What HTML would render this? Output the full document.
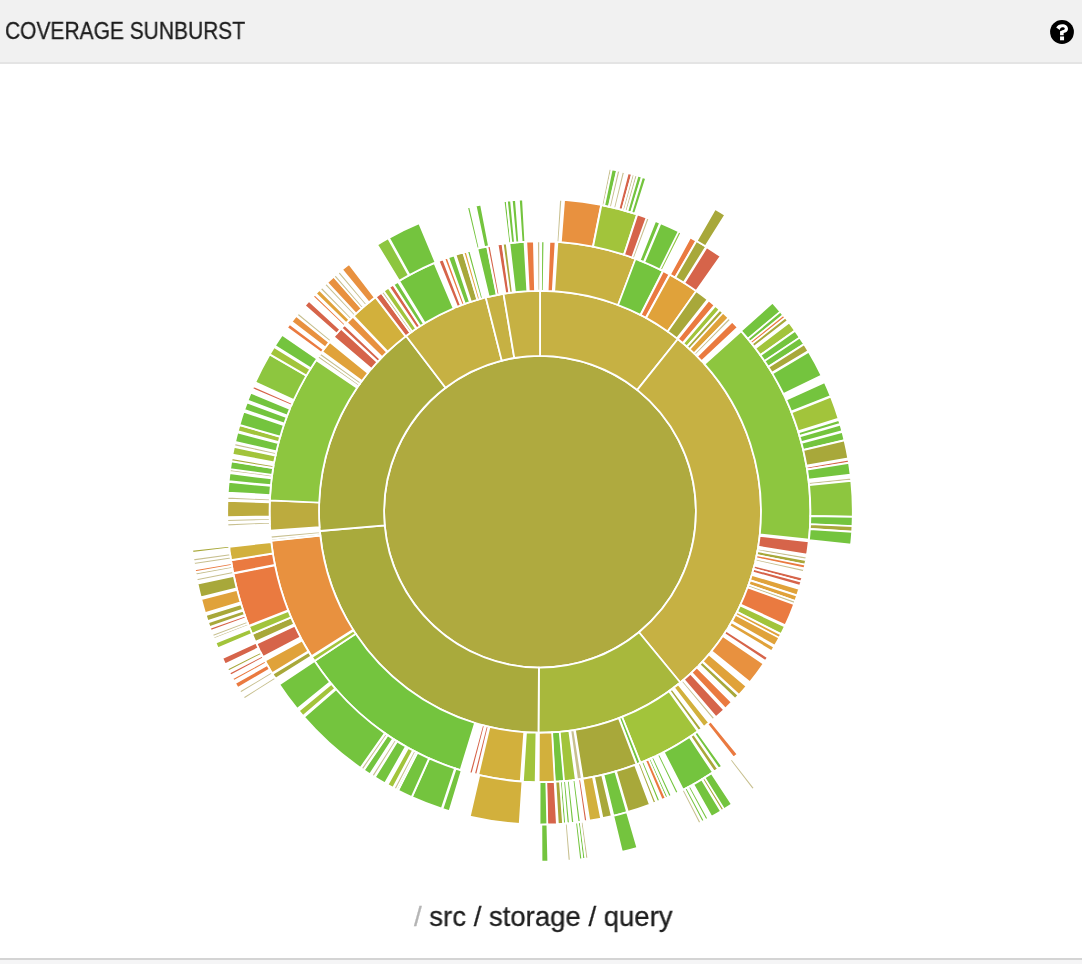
<!DOCTYPE html>
<html><head><meta charset="utf-8"><style>
html,body{margin:0;padding:0;background:#fff;width:1082px;height:964px;overflow:hidden;}
body{position:relative;font-family:"Liberation Sans",sans-serif;}
.hdr{position:absolute;left:0;top:0;width:1082px;height:62px;background:#f1f1f1;border-bottom:2px solid #e4e4e4;}
.ttl{position:absolute;left:5px;top:15.5px;will-change:transform;font-size:23px;line-height:30px;color:#1c1c1c;-webkit-text-stroke:0.3px #1c1c1c;white-space:nowrap;transform:scaleX(0.912);transform-origin:0 0;}
.help{position:absolute;left:1050px;top:19.75px;}
.crumb{position:absolute;left:414px;top:897px;will-change:transform;font-size:28px;line-height:40px;color:#1e1e1e;-webkit-text-stroke:0.3px #1e1e1e;white-space:nowrap;transform:scaleX(0.983);transform-origin:0 0;}
.crumb .g{color:#b4b4b4;-webkit-text-stroke:0.3px #b4b4b4;}
.bot{position:absolute;left:0;top:958px;width:1082px;height:2px;background:#d4d4d4;}
.bot2{position:absolute;left:0;top:960px;width:1082px;height:4px;background:#f5f5f6;}
svg.sb{position:absolute;left:0;top:0;}
</style></head><body>
<div class="hdr"><div class="ttl">COVERAGE SUNBURST</div>
<svg class="help" width="24" height="24" viewBox="0 0 24 24"><circle cx="12" cy="12" r="11.9" fill="#000"/><path d="M6.2,7.6 C7.2,5.3 9.6,4.15 12.2,4.15 C15.6,4.15 18,6.2 18,8.9 C18,11.3 16,12.2 13.65,12.9 L13.65,15.25 L10.05,15.25 L10.05,11.6 C10.05,10.5 14.8,10.2 14.8,8.7 C14.8,7.8 13.6,7.3 12.3,7.3 C11,7.3 10.2,8.1 9.8,9.9 Z" fill="#fff"/><rect x="10.05" y="16.45" width="4" height="3.85" fill="#fff"/></svg>
</div>
<svg class="sb" width="1082" height="964" viewBox="0 0 1082 964"><g stroke="#fff" stroke-width="1.8">
<circle cx="540.0" cy="511.75" r="155.9" fill="#afaa3f"/>
<path d="M540.00,290.75A221.0,221.0 0 0 1 677.88,339.03L637.26,389.91A155.9,155.9 0 0 0 540.00,355.85Z" fill="#c6b143"/>
<path d="M677.88,339.03A221.0,221.0 0 0 1 680.28,682.52L638.95,632.22A155.9,155.9 0 0 0 637.26,389.91Z" fill="#c6b143"/>
<path d="M680.28,682.52A221.0,221.0 0 0 1 538.46,732.74L538.91,667.65A155.9,155.9 0 0 0 638.95,632.22Z" fill="#a8b83c"/>
<path d="M538.46,732.74A221.0,221.0 0 0 1 319.84,531.01L384.69,525.34A155.9,155.9 0 0 0 538.91,667.65Z" fill="#a9aa3c"/>
<path d="M319.84,531.01A221.0,221.0 0 0 1 406.08,335.95L445.53,387.74A155.9,155.9 0 0 0 384.69,525.34Z" fill="#a9aa3c"/>
<path d="M406.08,335.95A221.0,221.0 0 0 1 485.79,297.50L501.76,360.61A155.9,155.9 0 0 0 445.53,387.74Z" fill="#c6b143"/>
<path d="M485.79,297.50A221.0,221.0 0 0 1 503.52,293.78L514.27,357.99A155.9,155.9 0 0 0 501.76,360.61Z" fill="#c6b143"/>
<path d="M503.52,293.78A221.0,221.0 0 0 1 540.00,290.75L540.00,355.85A155.9,155.9 0 0 0 514.27,357.99Z" fill="#c6b143"/>
<path d="M541.29,241.35A270.4,270.4 0 0 1 544.37,241.39L543.57,290.78A221.0,221.0 0 0 0 541.06,290.75Z" fill="#74c43e"/>
<path d="M549.39,241.51A270.4,270.4 0 0 1 555.61,241.80L552.76,291.12A221.0,221.0 0 0 0 547.67,290.88Z" fill="#ea7a40"/>
<path d="M557.40,241.91A270.4,270.4 0 0 1 635.62,258.82L618.15,305.03A221.0,221.0 0 0 0 554.22,291.21Z" fill="#c8b141"/>
<path d="M635.54,258.79A270.4,270.4 0 0 1 662.80,270.84L640.37,314.85A221.0,221.0 0 0 0 618.08,305.00Z" fill="#74c43e"/>
<path d="M663.14,271.02A270.4,270.4 0 0 1 669.48,274.37L645.82,317.73A221.0,221.0 0 0 0 640.64,315.00Z" fill="#ea7a40"/>
<path d="M669.81,274.55A270.4,270.4 0 0 1 696.29,291.09L667.74,331.41A221.0,221.0 0 0 0 646.10,317.88Z" fill="#e0a23a"/>
<path d="M696.21,291.04A270.4,270.4 0 0 1 707.62,299.58L677.00,338.34A221.0,221.0 0 0 0 667.68,331.36Z" fill="#a8a83a"/>
<path d="M708.66,300.40A270.4,270.4 0 0 1 714.57,305.25L682.68,342.98A221.0,221.0 0 0 0 677.85,339.01Z" fill="#ea7a40"/>
<path d="M715.22,305.80A270.4,270.4 0 0 1 719.56,309.58L686.76,346.51A221.0,221.0 0 0 0 683.21,343.43Z" fill="#a2c43b"/>
<path d="M719.84,309.83A270.4,270.4 0 0 1 723.76,313.38L690.18,349.62A221.0,221.0 0 0 0 686.99,346.72Z" fill="#a8a83a"/>
<path d="M722.99,312.68A270.4,270.4 0 0 1 728.55,317.93L694.10,353.34A221.0,221.0 0 0 0 689.56,349.05Z" fill="#e0a23a"/>
<path d="M728.59,317.97A270.4,270.4 0 0 1 730.79,320.14L695.93,355.14A221.0,221.0 0 0 0 694.14,353.38Z" fill="#c8c090"/>
<path d="M732.17,321.52A270.4,270.4 0 0 1 737.79,327.37L701.66,361.06A221.0,221.0 0 0 0 697.06,356.27Z" fill="#ea7a40"/>
<path d="M741.23,331.13A270.4,270.4 0 0 1 808.96,539.59L759.83,534.51A221.0,221.0 0 0 0 704.47,364.13Z" fill="#8dc63f"/>
<path d="M808.77,541.38A270.4,270.4 0 0 1 806.99,554.56L758.21,546.74A221.0,221.0 0 0 0 759.67,535.96Z" fill="#d6644a"/>
<path d="M806.63,556.72A270.4,270.4 0 0 1 806.10,559.76L757.49,550.99A221.0,221.0 0 0 0 757.92,548.51Z" fill="#c8c090"/>
<path d="M806.05,560.05A270.4,270.4 0 0 1 805.15,564.78L756.71,555.09A221.0,221.0 0 0 0 757.45,551.23Z" fill="#a8a83a"/>
<path d="M805.17,564.69A270.4,270.4 0 0 1 804.38,568.48L756.08,558.11A221.0,221.0 0 0 0 756.72,555.02Z" fill="#ea7a40"/>
<path d="M804.22,569.23A270.4,270.4 0 0 1 803.55,572.24L755.40,561.19A221.0,221.0 0 0 0 755.95,558.73Z" fill="#c8c090"/>
<path d="M802.26,577.58A270.4,270.4 0 0 1 801.17,581.78L753.46,568.99A221.0,221.0 0 0 0 754.35,565.55Z" fill="#d6644a"/>
<path d="M801.20,581.69A270.4,270.4 0 0 1 800.04,585.87L752.53,572.33A221.0,221.0 0 0 0 753.48,568.91Z" fill="#d6644a"/>
<path d="M799.14,588.96A270.4,270.4 0 0 1 797.15,595.35L750.17,580.08A221.0,221.0 0 0 0 751.80,574.85Z" fill="#e0a23a"/>
<path d="M797.03,595.71A270.4,270.4 0 0 1 795.19,601.17L748.57,584.83A221.0,221.0 0 0 0 750.08,580.37Z" fill="#e0a23a"/>
<path d="M795.25,601.00A270.4,270.4 0 0 1 794.21,603.91L747.77,587.07A221.0,221.0 0 0 0 748.61,584.70Z" fill="#c8c090"/>
<path d="M794.11,604.19A270.4,270.4 0 0 1 785.44,625.21L740.60,604.48A221.0,221.0 0 0 0 747.69,587.30Z" fill="#ea7a40"/>
<path d="M784.89,626.41A270.4,270.4 0 0 1 781.12,634.13L737.07,611.77A221.0,221.0 0 0 0 740.15,605.46Z" fill="#a2c43b"/>
<path d="M780.95,634.47A270.4,270.4 0 0 1 778.95,638.32L735.29,615.20A221.0,221.0 0 0 0 736.93,612.05Z" fill="#e0a23a"/>
<path d="M779.21,637.82A270.4,270.4 0 0 1 774.85,645.76L731.95,621.28A221.0,221.0 0 0 0 735.51,614.79Z" fill="#e0a23a"/>
<path d="M774.20,646.91A270.4,270.4 0 0 1 771.63,651.26L729.31,625.77A221.0,221.0 0 0 0 731.41,622.22Z" fill="#e0a23a"/>
<path d="M767.82,657.39A270.4,270.4 0 0 1 765.46,661.03L724.27,633.76A221.0,221.0 0 0 0 726.20,630.79Z" fill="#d6644a"/>
<path d="M763.67,663.70A270.4,270.4 0 0 1 749.81,682.32L711.48,651.16A221.0,221.0 0 0 0 722.81,635.94Z" fill="#e8913f"/>
<path d="M746.56,686.25A270.4,270.4 0 0 1 739.01,694.81L702.65,661.37A221.0,221.0 0 0 0 708.82,654.37Z" fill="#e0a23a"/>
<path d="M738.43,695.44A270.4,270.4 0 0 1 735.13,698.94L699.48,664.74A221.0,221.0 0 0 0 702.18,661.88Z" fill="#a8a83a"/>
<path d="M731.90,702.25A270.4,270.4 0 0 1 725.41,708.57L691.54,672.61A221.0,221.0 0 0 0 696.84,667.45Z" fill="#ea7a40"/>
<path d="M724.10,709.80A270.4,270.4 0 0 1 715.93,717.09L683.79,679.57A221.0,221.0 0 0 0 690.47,673.62Z" fill="#d6644a"/>
<path d="M714.99,717.89A270.4,270.4 0 0 1 712.63,719.88L681.09,681.85A221.0,221.0 0 0 0 683.02,680.23Z" fill="#c8c090"/>
<path d="M709.10,722.75A270.4,270.4 0 0 1 703.82,726.87L673.89,687.57A221.0,221.0 0 0 0 678.21,684.20Z" fill="#d2b03c"/>
<path d="M701.64,728.52A270.4,270.4 0 0 1 698.52,730.81L669.56,690.79A221.0,221.0 0 0 0 672.11,688.92Z" fill="#a8a83a"/>
<path d="M697.83,731.31A270.4,270.4 0 0 1 640.37,762.83L622.04,716.96A221.0,221.0 0 0 0 668.99,691.20Z" fill="#a2c43b"/>
<path d="M640.46,762.80A270.4,270.4 0 0 1 636.86,764.21L619.16,718.08A221.0,221.0 0 0 0 622.11,716.93Z" fill="#74c43e"/>
<path d="M636.51,764.34A270.4,270.4 0 0 1 582.72,778.75L574.92,729.97A221.0,221.0 0 0 0 618.87,718.20Z" fill="#a8a83a"/>
<path d="M581.88,778.89A270.4,270.4 0 0 1 577.12,779.59L570.34,730.66A221.0,221.0 0 0 0 574.23,730.08Z" fill="#c8c090"/>
<path d="M575.81,779.77A270.4,270.4 0 0 1 563.52,781.13L559.22,731.91A221.0,221.0 0 0 0 569.27,730.80Z" fill="#a2c43b"/>
<path d="M564.08,781.08A270.4,270.4 0 0 1 554.58,781.76L551.91,732.43A221.0,221.0 0 0 0 559.68,731.87Z" fill="#74c43e"/>
<path d="M554.81,781.74A270.4,270.4 0 0 1 538.68,782.15L538.92,732.75A221.0,221.0 0 0 0 552.10,732.42Z" fill="#d2b03c"/>
<path d="M535.66,782.12A270.4,270.4 0 0 1 522.88,781.61L526.01,732.31A221.0,221.0 0 0 0 536.45,732.72Z" fill="#a2c43b"/>
<path d="M520.71,781.46A270.4,270.4 0 0 1 478.21,775.00L489.50,726.90A221.0,221.0 0 0 0 524.24,732.19Z" fill="#d2b03c"/>
<path d="M477.00,774.71A270.4,270.4 0 0 1 474.01,773.97L486.06,726.07A221.0,221.0 0 0 0 488.51,726.67Z" fill="#d6644a"/>
<path d="M472.42,773.57A270.4,270.4 0 0 1 469.44,772.78L482.33,725.09A221.0,221.0 0 0 0 484.76,725.74Z" fill="#d6644a"/>
<path d="M460.54,770.21A270.4,270.4 0 0 1 314.49,660.95L355.69,633.70A221.0,221.0 0 0 0 475.05,722.99Z" fill="#74c43e"/>
<path d="M314.54,661.03A270.4,270.4 0 0 1 311.92,657.00L353.59,630.46A221.0,221.0 0 0 0 355.73,633.76Z" fill="#a2c43b"/>
<path d="M311.47,656.28A270.4,270.4 0 0 1 271.18,540.91L320.29,535.58A221.0,221.0 0 0 0 353.22,629.87Z" fill="#e8913f"/>
<path d="M271.14,540.61A270.4,270.4 0 0 1 270.83,537.54L320.01,532.83A221.0,221.0 0 0 0 320.26,535.34Z" fill="#c8c090"/>
<path d="M270.95,538.73A270.4,270.4 0 0 1 270.66,535.66L319.87,531.29A221.0,221.0 0 0 0 320.10,533.80Z" fill="#c8c090"/>
<path d="M270.26,530.66A270.4,270.4 0 0 1 269.84,500.38L319.20,502.46A221.0,221.0 0 0 0 319.54,527.20Z" fill="#bcab3e"/>
<path d="M269.84,500.47A270.4,270.4 0 0 1 316.12,360.11L357.02,387.82A221.0,221.0 0 0 0 319.19,502.53Z" fill="#8dc63f"/>
<path d="M317.49,358.11A270.4,270.4 0 0 1 319.25,355.59L359.58,384.12A221.0,221.0 0 0 0 358.14,386.18Z" fill="#c8c090"/>
<path d="M319.24,355.60A270.4,270.4 0 0 1 321.04,353.09L361.04,382.08A221.0,221.0 0 0 0 359.57,384.13Z" fill="#c8c090"/>
<path d="M322.05,351.71A270.4,270.4 0 0 1 329.59,341.91L368.03,372.94A221.0,221.0 0 0 0 361.87,380.95Z" fill="#e0a23a"/>
<path d="M333.74,336.89A270.4,270.4 0 0 1 340.99,328.69L377.35,362.13A221.0,221.0 0 0 0 371.43,368.84Z" fill="#d6644a"/>
<path d="M341.57,328.06A270.4,270.4 0 0 1 344.54,324.90L380.25,359.04A221.0,221.0 0 0 0 377.82,361.62Z" fill="#d6644a"/>
<path d="M346.77,322.59A270.4,270.4 0 0 1 352.88,316.55L387.06,352.21A221.0,221.0 0 0 0 382.07,357.15Z" fill="#e8913f"/>
<path d="M353.49,315.97A270.4,270.4 0 0 1 375.43,297.20L405.49,336.40A221.0,221.0 0 0 0 387.57,351.73Z" fill="#d2b03c"/>
<path d="M375.73,296.97A270.4,270.4 0 0 1 381.48,292.69L410.44,332.71A221.0,221.0 0 0 0 405.74,336.21Z" fill="#d6644a"/>
<path d="M381.34,292.79A270.4,270.4 0 0 1 383.85,290.99L412.38,331.32A221.0,221.0 0 0 0 410.33,332.79Z" fill="#c8c090"/>
<path d="M383.71,291.09A270.4,270.4 0 0 1 388.44,287.82L416.13,328.73A221.0,221.0 0 0 0 412.26,331.41Z" fill="#a2c43b"/>
<path d="M389.15,287.34A270.4,270.4 0 0 1 393.16,284.69L419.99,326.17A221.0,221.0 0 0 0 416.71,328.34Z" fill="#d6644a"/>
<path d="M393.48,284.49A270.4,270.4 0 0 1 397.95,281.67L423.90,323.70A221.0,221.0 0 0 0 420.25,326.01Z" fill="#74c43e"/>
<path d="M399.08,280.97A270.4,270.4 0 0 1 434.39,262.83L453.68,308.30A221.0,221.0 0 0 0 424.82,323.14Z" fill="#74c43e"/>
<path d="M438.66,261.06A270.4,270.4 0 0 1 443.14,259.29L460.84,305.42A221.0,221.0 0 0 0 457.18,306.86Z" fill="#d6644a"/>
<path d="M444.38,258.82A270.4,270.4 0 0 1 447.56,257.64L464.45,304.06A221.0,221.0 0 0 0 461.85,305.03Z" fill="#ea7a40"/>
<path d="M448.14,257.43A270.4,270.4 0 0 1 454.25,255.31L469.91,302.16A221.0,221.0 0 0 0 464.92,303.89Z" fill="#74c43e"/>
<path d="M455.50,254.89A270.4,270.4 0 0 1 463.25,252.47L477.27,299.84A221.0,221.0 0 0 0 470.94,301.82Z" fill="#a8a83a"/>
<path d="M463.54,252.39A270.4,270.4 0 0 1 466.50,251.53L479.92,299.07A221.0,221.0 0 0 0 477.50,299.77Z" fill="#e0a23a"/>
<path d="M467.16,251.34A270.4,270.4 0 0 1 470.14,250.53L482.90,298.25A221.0,221.0 0 0 0 480.47,298.92Z" fill="#74c43e"/>
<path d="M477.29,248.72A270.4,270.4 0 0 1 487.06,246.58L496.73,295.03A221.0,221.0 0 0 0 488.75,296.78Z" fill="#74c43e"/>
<path d="M487.36,246.52A270.4,270.4 0 0 1 490.38,245.94L499.45,294.50A221.0,221.0 0 0 0 496.97,294.98Z" fill="#d6644a"/>
<path d="M497.65,244.69A270.4,270.4 0 0 1 502.41,243.98L509.28,292.90A221.0,221.0 0 0 0 505.39,293.48Z" fill="#d6644a"/>
<path d="M502.79,243.92A270.4,270.4 0 0 1 506.62,243.42L512.72,292.44A221.0,221.0 0 0 0 509.59,292.85Z" fill="#a8a83a"/>
<path d="M509.34,243.09A270.4,270.4 0 0 1 524.48,241.80L527.32,291.11A221.0,221.0 0 0 0 514.94,292.17Z" fill="#74c43e"/>
<path d="M526.27,241.70A270.4,270.4 0 0 1 533.91,241.42L535.02,290.81A221.0,221.0 0 0 0 528.78,291.03Z" fill="#ea7a40"/>
<path d="M537.04,241.37A270.4,270.4 0 0 1 540.12,241.35L540.10,290.75A221.0,221.0 0 0 0 537.58,290.76Z" fill="#c8c090"/>
<path d="M559.23,199.54A312.8,312.8 0 0 1 562.23,199.74L559.22,242.03A270.4,270.4 0 0 0 556.62,241.86Z" fill="#c8c090"/>
<path d="M564.12,199.88A312.8,312.8 0 0 1 601.17,204.99L592.88,246.57A270.4,270.4 0 0 0 560.85,242.16Z" fill="#e8913f"/>
<path d="M601.42,205.04A312.8,312.8 0 0 1 637.06,214.39L623.90,254.70A270.4,270.4 0 0 0 593.09,246.61Z" fill="#a2c43b"/>
<path d="M637.30,214.47A312.8,312.8 0 0 1 647.38,217.96L632.82,257.78A270.4,270.4 0 0 0 624.11,254.76Z" fill="#d6644a"/>
<path d="M646.60,217.67A312.8,312.8 0 0 1 649.42,218.71L634.59,258.43A270.4,270.4 0 0 0 632.15,257.54Z" fill="#c8c090"/>
<path d="M655.27,220.96A312.8,312.8 0 0 1 660.09,222.92L643.81,262.07A270.4,270.4 0 0 0 639.64,260.38Z" fill="#74c43e"/>
<path d="M660.58,223.12A312.8,312.8 0 0 1 679.46,231.76L660.55,269.71A270.4,270.4 0 0 0 644.23,262.25Z" fill="#74c43e"/>
<path d="M678.71,231.39A312.8,312.8 0 0 1 681.40,232.73L662.23,270.55A270.4,270.4 0 0 0 659.91,269.39Z" fill="#8dc63f"/>
<path d="M690.32,237.44A312.8,312.8 0 0 1 696.29,240.79L675.11,277.52A270.4,270.4 0 0 0 669.95,274.62Z" fill="#ea7a40"/>
<path d="M696.51,240.92A312.8,312.8 0 0 1 706.11,246.70L683.60,282.63A270.4,270.4 0 0 0 675.29,277.63Z" fill="#a8a83a"/>
<path d="M706.79,247.13A312.8,312.8 0 0 1 720.65,256.39L696.16,291.00A270.4,270.4 0 0 0 684.18,283.00Z" fill="#d6644a"/>
<path d="M772.54,302.54A312.8,312.8 0 0 1 780.59,311.85L747.98,338.94A270.4,270.4 0 0 0 741.02,330.90Z" fill="#74c43e"/>
<path d="M780.40,311.62A312.8,312.8 0 0 1 783.53,315.44L750.52,342.05A270.4,270.4 0 0 0 747.81,338.75Z" fill="#74c43e"/>
<path d="M783.17,315.00A312.8,312.8 0 0 1 785.40,317.78L752.14,344.08A270.4,270.4 0 0 0 750.21,341.67Z" fill="#ea7a40"/>
<path d="M785.22,317.55A312.8,312.8 0 0 1 787.75,320.80L754.17,346.68A270.4,270.4 0 0 0 751.98,343.88Z" fill="#a8a83a"/>
<path d="M789.10,322.56A312.8,312.8 0 0 1 794.90,330.45L760.35,355.02A270.4,270.4 0 0 0 755.33,348.20Z" fill="#a2c43b"/>
<path d="M795.05,330.65A312.8,312.8 0 0 1 799.86,337.64L764.64,361.24A270.4,270.4 0 0 0 760.47,355.20Z" fill="#74c43e"/>
<path d="M799.70,337.39A312.8,312.8 0 0 1 804.04,344.04L768.25,366.77A270.4,270.4 0 0 0 764.50,361.03Z" fill="#74c43e"/>
<path d="M804.17,344.25A312.8,312.8 0 0 1 808.34,351.01L771.96,372.79A270.4,270.4 0 0 0 768.36,366.95Z" fill="#a8a83a"/>
<path d="M808.75,351.69A312.8,312.8 0 0 1 821.56,375.50L783.40,393.97A270.4,270.4 0 0 0 772.32,373.39Z" fill="#74c43e"/>
<path d="M824.69,382.15A312.8,312.8 0 0 1 830.59,395.98L791.20,411.67A270.4,270.4 0 0 0 786.10,399.72Z" fill="#74c43e"/>
<path d="M830.88,396.72A312.8,312.8 0 0 1 838.61,418.61L798.13,431.24A270.4,270.4 0 0 0 791.45,412.31Z" fill="#a2c43b"/>
<path d="M839.01,419.90A312.8,312.8 0 0 1 840.19,423.84L799.50,435.75A270.4,270.4 0 0 0 798.48,432.35Z" fill="#74c43e"/>
<path d="M840.42,424.60A312.8,312.8 0 0 1 842.25,431.20L801.28,442.12A270.4,270.4 0 0 0 799.69,436.42Z" fill="#74c43e"/>
<path d="M842.45,431.97A312.8,312.8 0 0 1 844.51,440.20L803.23,449.90A270.4,270.4 0 0 0 801.46,442.78Z" fill="#74c43e"/>
<path d="M844.56,440.44A312.8,312.8 0 0 1 848.21,458.38L806.44,465.62A270.4,270.4 0 0 0 803.28,450.11Z" fill="#a8a83a"/>
<path d="M848.44,459.71A312.8,312.8 0 0 1 848.93,462.69L807.05,469.34A270.4,270.4 0 0 0 806.63,466.76Z" fill="#d6644a"/>
<path d="M848.97,462.94A312.8,312.8 0 0 1 850.58,474.59L808.48,479.63A270.4,270.4 0 0 0 807.09,469.56Z" fill="#74c43e"/>
<path d="M850.93,477.56A312.8,312.8 0 0 1 851.24,480.55L809.05,484.78A270.4,270.4 0 0 0 808.78,482.19Z" fill="#c8c090"/>
<path d="M851.27,480.81A312.8,312.8 0 0 1 852.76,516.54L810.37,515.89A270.4,270.4 0 0 0 809.07,485.00Z" fill="#8dc63f"/>
<path d="M852.76,516.79A312.8,312.8 0 0 1 852.46,526.36L810.10,524.38A270.4,270.4 0 0 0 810.36,516.11Z" fill="#74c43e"/>
<path d="M852.47,526.07A312.8,312.8 0 0 1 852.17,531.54L809.86,528.85A270.4,270.4 0 0 0 810.12,524.13Z" fill="#a8a83a"/>
<path d="M852.16,531.79A312.8,312.8 0 0 1 851.07,544.59L808.91,540.14A270.4,270.4 0 0 0 809.84,529.07Z" fill="#74c43e"/>
<path d="M737.60,754.23A312.8,312.8 0 0 1 733.54,757.49L707.30,724.18A270.4,270.4 0 0 0 710.82,721.36Z" fill="#ea7a40"/>
<path d="M721.99,766.16A312.8,312.8 0 0 1 718.62,768.53L694.41,733.73A270.4,270.4 0 0 0 697.32,731.68Z" fill="#74c43e"/>
<path d="M717.97,768.99A312.8,312.8 0 0 1 714.11,771.61L690.51,736.39A270.4,270.4 0 0 0 693.84,734.12Z" fill="#a8a83a"/>
<path d="M713.00,772.36A312.8,312.8 0 0 1 683.09,789.90L663.70,752.20A270.4,270.4 0 0 0 689.55,737.03Z" fill="#74c43e"/>
<path d="M678.47,792.23A312.8,312.8 0 0 1 675.77,793.55L657.37,755.35A270.4,270.4 0 0 0 659.70,754.21Z" fill="#74c43e"/>
<path d="M671.58,795.53A312.8,312.8 0 0 1 668.85,796.78L651.38,758.15A270.4,270.4 0 0 0 653.74,757.06Z" fill="#74c43e"/>
<path d="M668.10,797.12A312.8,312.8 0 0 1 665.35,798.33L648.36,759.49A270.4,270.4 0 0 0 650.74,758.44Z" fill="#74c43e"/>
<path d="M665.61,798.22A312.8,312.8 0 0 1 661.83,799.85L645.32,760.80A270.4,270.4 0 0 0 648.59,759.39Z" fill="#ea7a40"/>
<path d="M660.08,800.58A312.8,312.8 0 0 1 657.30,801.72L641.40,762.42A270.4,270.4 0 0 0 643.80,761.43Z" fill="#74c43e"/>
<path d="M656.04,802.23A312.8,312.8 0 0 1 653.24,803.33L637.89,763.81A270.4,270.4 0 0 0 640.31,762.86Z" fill="#a8a83a"/>
<path d="M649.94,804.59A312.8,312.8 0 0 1 627.91,811.94L616.00,771.25A270.4,270.4 0 0 0 635.04,764.90Z" fill="#a8a83a"/>
<path d="M627.15,812.17A312.8,312.8 0 0 1 613.41,815.81L603.46,774.60A270.4,270.4 0 0 0 615.33,771.44Z" fill="#74c43e"/>
<path d="M611.84,816.19A312.8,312.8 0 0 1 602.49,818.25L594.02,776.70A270.4,270.4 0 0 0 602.10,774.92Z" fill="#a8a83a"/>
<path d="M601.17,818.51A312.8,312.8 0 0 1 589.33,820.64L582.64,778.77A270.4,270.4 0 0 0 592.88,776.93Z" fill="#d2b03c"/>
<path d="M587.18,820.97A312.8,312.8 0 0 1 584.21,821.41L578.22,779.44A270.4,270.4 0 0 0 580.78,779.06Z" fill="#d6644a"/>
<path d="M580.69,821.89A312.8,312.8 0 0 1 577.71,822.27L572.60,780.18A270.4,270.4 0 0 0 575.18,779.85Z" fill="#74c43e"/>
<path d="M574.19,822.68A312.8,312.8 0 0 1 571.20,822.99L566.97,780.80A270.4,270.4 0 0 0 569.56,780.53Z" fill="#74c43e"/>
<path d="M569.85,823.12A312.8,312.8 0 0 1 566.85,823.40L563.21,781.15A270.4,270.4 0 0 0 565.80,780.92Z" fill="#74c43e"/>
<path d="M566.04,823.46A312.8,312.8 0 0 1 563.04,823.70L559.92,781.42A270.4,270.4 0 0 0 562.51,781.21Z" fill="#74c43e"/>
<path d="M563.06,823.70A312.8,312.8 0 0 1 557.86,824.04L555.44,781.71A270.4,270.4 0 0 0 559.93,781.41Z" fill="#a8a83a"/>
<path d="M556.90,824.09A312.8,312.8 0 0 1 547.00,824.47L546.06,782.08A270.4,270.4 0 0 0 554.61,781.76Z" fill="#d6644a"/>
<path d="M547.30,824.46A312.8,312.8 0 0 1 539.53,824.55L539.59,782.15A270.4,270.4 0 0 0 546.31,782.08Z" fill="#74c43e"/>
<path d="M519.69,823.89A312.8,312.8 0 0 1 469.76,816.56L479.28,775.24A270.4,270.4 0 0 0 522.44,781.58Z" fill="#d2b03c"/>
<path d="M449.47,811.16A312.8,312.8 0 0 1 442.42,808.94L455.65,768.66A270.4,270.4 0 0 0 461.74,770.58Z" fill="#74c43e"/>
<path d="M441.66,808.69A312.8,312.8 0 0 1 411.89,797.11L429.26,758.43A270.4,270.4 0 0 0 454.99,768.44Z" fill="#74c43e"/>
<path d="M411.66,797.01A312.8,312.8 0 0 1 398.10,790.51L417.34,752.73A270.4,270.4 0 0 0 429.06,758.34Z" fill="#74c43e"/>
<path d="M397.87,790.40A312.8,312.8 0 0 1 395.20,789.02L414.83,751.43A270.4,270.4 0 0 0 417.14,752.62Z" fill="#74c43e"/>
<path d="M396.41,789.65A312.8,312.8 0 0 1 393.75,788.26L413.58,750.78A270.4,270.4 0 0 0 415.88,751.98Z" fill="#c8c090"/>
<path d="M393.04,787.88A312.8,312.8 0 0 1 387.51,784.86L408.18,747.84A270.4,270.4 0 0 0 412.96,750.45Z" fill="#a2c43b"/>
<path d="M384.91,783.40A312.8,312.8 0 0 1 374.81,777.38L397.20,741.37A270.4,270.4 0 0 0 405.93,746.57Z" fill="#74c43e"/>
<path d="M374.13,776.95A312.8,312.8 0 0 1 371.59,775.34L394.42,739.61A270.4,270.4 0 0 0 396.61,741.00Z" fill="#c8c090"/>
<path d="M369.99,774.31A312.8,312.8 0 0 1 363.83,770.22L387.71,735.19A270.4,270.4 0 0 0 393.03,738.72Z" fill="#74c43e"/>
<path d="M363.39,769.92A312.8,312.8 0 0 1 360.92,768.22L385.19,733.45A270.4,270.4 0 0 0 387.33,734.93Z" fill="#c8c090"/>
<path d="M360.48,767.91A312.8,312.8 0 0 1 304.01,717.06L336.00,689.23A270.4,270.4 0 0 0 384.82,733.19Z" fill="#74c43e"/>
<path d="M303.13,716.04A312.8,312.8 0 0 1 298.72,710.81L331.42,683.83A270.4,270.4 0 0 0 335.24,688.35Z" fill="#a2c43b"/>
<path d="M297.17,708.93A312.8,312.8 0 0 1 279.23,684.50L314.58,661.08A270.4,270.4 0 0 0 330.09,682.20Z" fill="#74c43e"/>
<path d="M275.53,678.79A312.8,312.8 0 0 1 272.51,673.90L308.77,651.92A270.4,270.4 0 0 0 311.38,656.15Z" fill="#a8a83a"/>
<path d="M272.09,673.21A312.8,312.8 0 0 1 264.91,660.64L302.20,640.45A270.4,270.4 0 0 0 308.41,651.33Z" fill="#e0a23a"/>
<path d="M262.99,657.04A312.8,312.8 0 0 1 256.33,643.56L294.78,625.70A270.4,270.4 0 0 0 300.54,637.35Z" fill="#d6644a"/>
<path d="M255.54,641.85A312.8,312.8 0 0 1 252.12,634.09L291.14,617.50A270.4,270.4 0 0 0 294.10,624.21Z" fill="#a8a83a"/>
<path d="M252.02,633.85A312.8,312.8 0 0 1 249.01,626.51L288.46,610.95A270.4,270.4 0 0 0 291.05,617.30Z" fill="#a2c43b"/>
<path d="M248.72,625.77A312.8,312.8 0 0 1 233.40,573.70L274.96,565.30A270.4,270.4 0 0 0 288.20,610.31Z" fill="#ea7a40"/>
<path d="M233.29,573.19A312.8,312.8 0 0 1 230.99,560.27L272.87,553.69A270.4,270.4 0 0 0 274.87,564.86Z" fill="#ea7a40"/>
<path d="M230.95,560.02A312.8,312.8 0 0 1 229.16,546.74L271.30,542.00A270.4,270.4 0 0 0 272.84,553.48Z" fill="#d2b03c"/>
<path d="M227.54,526.35A312.8,312.8 0 0 1 227.42,523.35L269.79,521.78A270.4,270.4 0 0 0 269.89,524.37Z" fill="#c8c090"/>
<path d="M227.37,521.98A312.8,312.8 0 0 1 227.28,518.98L269.67,518.00A270.4,270.4 0 0 0 269.74,520.60Z" fill="#c8c090"/>
<path d="M227.25,517.08A312.8,312.8 0 0 1 227.39,500.96L269.76,502.42A270.4,270.4 0 0 0 269.64,516.36Z" fill="#bcab3e"/>
<path d="M227.44,499.61A312.8,312.8 0 0 1 227.57,496.61L269.92,498.66A270.4,270.4 0 0 0 269.80,501.25Z" fill="#c8c090"/>
<path d="M227.79,492.53A312.8,312.8 0 0 1 228.63,481.90L270.83,485.94A270.4,270.4 0 0 0 270.11,495.13Z" fill="#74c43e"/>
<path d="M228.71,481.10A312.8,312.8 0 0 1 229.58,473.21L271.66,478.44A270.4,270.4 0 0 0 270.90,485.25Z" fill="#74c43e"/>
<path d="M229.75,471.87A312.8,312.8 0 0 1 230.15,468.89L272.15,474.70A270.4,270.4 0 0 0 271.81,477.28Z" fill="#c8c090"/>
<path d="M230.11,469.17A312.8,312.8 0 0 1 231.29,461.33L273.14,468.16A270.4,270.4 0 0 0 272.12,474.94Z" fill="#74c43e"/>
<path d="M231.33,461.07A312.8,312.8 0 0 1 231.83,458.10L273.61,465.38A270.4,270.4 0 0 0 273.17,467.94Z" fill="#a8a83a"/>
<path d="M232.46,454.62A312.8,312.8 0 0 1 234.01,446.84L275.49,455.64A270.4,270.4 0 0 0 274.15,462.37Z" fill="#a2c43b"/>
<path d="M234.18,446.05A312.8,312.8 0 0 1 234.82,443.11L276.19,452.42A270.4,270.4 0 0 0 275.63,454.95Z" fill="#c8c090"/>
<path d="M235.12,441.79A312.8,312.8 0 0 1 237.41,432.50L278.42,443.24A270.4,270.4 0 0 0 276.45,451.28Z" fill="#74c43e"/>
<path d="M237.75,431.20A312.8,312.8 0 0 1 239.43,425.13L280.18,436.87A270.4,270.4 0 0 0 278.72,442.12Z" fill="#a2c43b"/>
<path d="M239.50,424.88A312.8,312.8 0 0 1 243.67,411.58L283.84,425.16A270.4,270.4 0 0 0 280.24,436.66Z" fill="#74c43e"/>
<path d="M244.28,409.79A312.8,312.8 0 0 1 246.96,402.32L286.69,417.16A270.4,270.4 0 0 0 284.37,423.61Z" fill="#74c43e"/>
<path d="M247.63,400.55A312.8,312.8 0 0 1 250.75,392.67L289.96,408.81A270.4,270.4 0 0 0 287.26,415.63Z" fill="#74c43e"/>
<path d="M252.33,388.90A312.8,312.8 0 0 1 253.53,386.15L292.36,403.17A270.4,270.4 0 0 0 291.33,405.55Z" fill="#d6644a"/>
<path d="M255.19,382.42A312.8,312.8 0 0 1 269.59,354.51L306.25,375.83A270.4,270.4 0 0 0 293.80,399.95Z" fill="#8dc63f"/>
<path d="M269.72,354.30A312.8,312.8 0 0 1 274.09,347.03L310.13,369.35A270.4,270.4 0 0 0 306.36,375.64Z" fill="#a2c43b"/>
<path d="M274.80,345.88A312.8,312.8 0 0 1 282.14,334.68L317.09,358.68A270.4,270.4 0 0 0 310.75,368.37Z" fill="#74c43e"/>
<path d="M287.01,327.79A312.8,312.8 0 0 1 289.78,324.04L323.70,349.48A270.4,270.4 0 0 0 321.31,352.72Z" fill="#ea7a40"/>
<path d="M291.58,321.66A312.8,312.8 0 0 1 296.14,315.85L329.20,342.40A270.4,270.4 0 0 0 325.26,347.43Z" fill="#e8913f"/>
<path d="M296.65,315.22A312.8,312.8 0 0 1 298.55,312.89L331.28,339.85A270.4,270.4 0 0 0 329.64,341.86Z" fill="#c8c090"/>
<path d="M304.73,305.62A312.8,312.8 0 0 1 308.93,300.92L340.25,329.50A270.4,270.4 0 0 0 336.62,333.56Z" fill="#d6644a"/>
<path d="M312.82,296.73A312.8,312.8 0 0 1 314.90,294.56L345.41,324.00A270.4,270.4 0 0 0 343.62,325.88Z" fill="#ea7a40"/>
<path d="M315.84,293.59A312.8,312.8 0 0 1 319.50,289.89L349.39,319.96A270.4,270.4 0 0 0 346.22,323.16Z" fill="#e0a23a"/>
<path d="M320.07,289.32A312.8,312.8 0 0 1 322.22,287.21L351.74,317.65A270.4,270.4 0 0 0 349.89,319.47Z" fill="#c8c090"/>
<path d="M324.39,285.14A312.8,312.8 0 0 1 326.57,283.08L355.50,314.07A270.4,270.4 0 0 0 353.61,315.85Z" fill="#c8c090"/>
<path d="M327.16,282.52A312.8,312.8 0 0 1 333.87,276.48L361.81,308.37A270.4,270.4 0 0 0 356.01,313.60Z" fill="#e8913f"/>
<path d="M333.65,276.66A312.8,312.8 0 0 1 335.92,274.69L363.58,306.83A270.4,270.4 0 0 0 361.62,308.53Z" fill="#c8c090"/>
<path d="M337.58,273.28A312.8,312.8 0 0 1 339.88,271.34L367.01,303.93A270.4,270.4 0 0 0 365.02,305.60Z" fill="#c8c090"/>
<path d="M341.98,269.61A312.8,312.8 0 0 1 349.05,264.00L374.93,297.58A270.4,270.4 0 0 0 368.82,302.43Z" fill="#e8913f"/>
<path d="M377.14,244.69A312.8,312.8 0 0 1 388.24,238.23L408.81,275.31A270.4,270.4 0 0 0 399.21,280.89Z" fill="#8dc63f"/>
<path d="M388.94,237.84A312.8,312.8 0 0 1 419.17,223.23L435.55,262.34A270.4,270.4 0 0 0 409.42,274.97Z" fill="#74c43e"/>
<path d="M467.11,207.56A312.8,312.8 0 0 1 470.03,206.88L479.52,248.20A270.4,270.4 0 0 0 476.99,248.79Z" fill="#74c43e"/>
<path d="M475.62,205.65A312.8,312.8 0 0 1 480.99,204.57L488.99,246.20A270.4,270.4 0 0 0 484.35,247.14Z" fill="#74c43e"/>
<path d="M503.64,201.07A312.8,312.8 0 0 1 506.63,200.74L511.15,242.89A270.4,270.4 0 0 0 508.57,243.18Z" fill="#74c43e"/>
<path d="M506.89,200.71A312.8,312.8 0 0 1 510.98,200.30L514.91,242.52A270.4,270.4 0 0 0 511.37,242.87Z" fill="#74c43e"/>
<path d="M511.78,200.23A312.8,312.8 0 0 1 515.88,199.88L519.15,242.16A270.4,270.4 0 0 0 515.60,242.45Z" fill="#74c43e"/>
<path d="M518.85,199.67A312.8,312.8 0 0 1 522.96,199.41L525.27,241.75A270.4,270.4 0 0 0 521.72,241.97Z" fill="#74c43e"/>
<path d="M608.91,168.70A349.9,349.9 0 0 1 611.80,169.30L604.19,205.61A312.8,312.8 0 0 0 601.60,205.08Z" fill="#c8c090"/>
<path d="M611.82,169.30A349.9,349.9 0 0 1 616.96,170.42L608.80,206.61A312.8,312.8 0 0 0 604.20,205.61Z" fill="#74c43e"/>
<path d="M617.27,170.49A349.9,349.9 0 0 1 620.15,171.15L611.65,207.27A312.8,312.8 0 0 0 609.08,206.67Z" fill="#c8c090"/>
<path d="M622.03,171.60A349.9,349.9 0 0 1 624.90,172.31L615.90,208.30A312.8,312.8 0 0 0 613.33,207.67Z" fill="#c8c090"/>
<path d="M627.87,173.06A349.9,349.9 0 0 1 632.07,174.18L622.31,209.97A312.8,312.8 0 0 0 618.55,208.97Z" fill="#d6644a"/>
<path d="M632.08,174.18A349.9,349.9 0 0 1 634.93,174.97L624.86,210.68A312.8,312.8 0 0 0 622.32,209.98Z" fill="#c8c090"/>
<path d="M634.73,174.92A349.9,349.9 0 0 1 637.57,175.73L627.23,211.36A312.8,312.8 0 0 0 624.69,210.63Z" fill="#c8c090"/>
<path d="M637.64,175.75A349.9,349.9 0 0 1 641.81,176.99L631.01,212.48A312.8,312.8 0 0 0 627.29,211.38Z" fill="#74c43e"/>
<path d="M642.15,177.09A349.9,349.9 0 0 1 646.12,178.33L634.87,213.68A312.8,312.8 0 0 0 631.32,212.58Z" fill="#74c43e"/>
<path d="M715.18,208.86A349.9,349.9 0 0 1 725.19,214.87L705.55,246.35A312.8,312.8 0 0 0 696.61,240.98Z" fill="#a8a83a"/>
<path d="M754.66,788.07A349.9,349.9 0 0 1 752.32,789.87L729.80,760.38A312.8,312.8 0 0 0 731.90,758.77Z" fill="#c8c090"/>
<path d="M731.88,804.35A349.9,349.9 0 0 1 723.57,809.63L704.11,778.04A312.8,312.8 0 0 0 711.53,773.32Z" fill="#74c43e"/>
<path d="M724.08,809.31A349.9,349.9 0 0 1 721.56,810.86L702.31,779.14A312.8,312.8 0 0 0 704.56,777.76Z" fill="#a8a83a"/>
<path d="M721.03,811.18A349.9,349.9 0 0 1 711.47,816.75L693.29,784.41A312.8,312.8 0 0 0 701.83,779.43Z" fill="#74c43e"/>
<path d="M708.26,818.54A349.9,349.9 0 0 1 705.66,819.95L688.09,787.27A312.8,312.8 0 0 0 690.42,786.01Z" fill="#74c43e"/>
<path d="M704.49,820.57A349.9,349.9 0 0 1 701.88,821.95L684.72,789.06A312.8,312.8 0 0 0 687.05,787.83Z" fill="#74c43e"/>
<path d="M701.25,822.28A349.9,349.9 0 0 1 698.62,823.63L681.80,790.56A312.8,312.8 0 0 0 684.15,789.35Z" fill="#c8c090"/>
<path d="M637.36,847.83A349.9,349.9 0 0 1 621.95,851.92L613.26,815.85A312.8,312.8 0 0 0 627.04,812.20Z" fill="#74c43e"/>
<path d="M588.35,858.29A349.9,349.9 0 0 1 585.42,858.69L580.60,821.90A312.8,312.8 0 0 0 583.22,821.55Z" fill="#c8c090"/>
<path d="M585.32,858.70A349.9,349.9 0 0 1 582.39,859.07L577.89,822.25A312.8,312.8 0 0 0 580.52,821.92Z" fill="#74c43e"/>
<path d="M582.29,859.08A349.9,349.9 0 0 1 579.35,859.43L575.18,822.57A312.8,312.8 0 0 0 577.81,822.26Z" fill="#74c43e"/>
<path d="M570.75,860.30A349.9,349.9 0 0 1 567.81,860.54L564.86,823.56A312.8,312.8 0 0 0 567.49,823.34Z" fill="#c8c090"/>
<path d="M548.28,861.55A349.9,349.9 0 0 1 541.49,861.65L541.33,824.55A312.8,312.8 0 0 0 547.40,824.46Z" fill="#74c43e"/>
<path d="M244.54,699.19A349.9,349.9 0 0 1 242.97,696.69L274.46,677.08A312.8,312.8 0 0 0 275.87,679.32Z" fill="#c8c090"/>
<path d="M240.90,693.33A349.9,349.9 0 0 1 239.38,690.80L271.26,671.81A312.8,312.8 0 0 0 272.62,674.08Z" fill="#c8c090"/>
<path d="M237.76,688.05A349.9,349.9 0 0 1 235.00,683.22L267.34,665.04A312.8,312.8 0 0 0 269.81,669.36Z" fill="#ea7a40"/>
<path d="M233.80,681.08A349.9,349.9 0 0 1 232.38,678.48L265.00,660.80A312.8,312.8 0 0 0 266.27,663.12Z" fill="#ea7a40"/>
<path d="M230.75,675.44A349.9,349.9 0 0 1 229.38,672.82L262.31,655.74A312.8,312.8 0 0 0 263.54,658.08Z" fill="#d6644a"/>
<path d="M228.63,671.37A349.9,349.9 0 0 1 227.29,668.74L260.45,652.09A312.8,312.8 0 0 0 261.65,654.45Z" fill="#a8a83a"/>
<path d="M225.13,664.34A349.9,349.9 0 0 1 222.23,658.21L255.92,642.68A312.8,312.8 0 0 0 258.51,648.16Z" fill="#d6644a"/>
<path d="M217.81,648.22A349.9,349.9 0 0 1 215.57,642.79L249.97,628.90A312.8,312.8 0 0 0 251.97,633.75Z" fill="#a2c43b"/>
<path d="M214.09,639.09A349.9,349.9 0 0 1 213.03,636.33L247.70,623.12A312.8,312.8 0 0 0 248.65,625.59Z" fill="#c8c090"/>
<path d="M213.21,636.81A349.9,349.9 0 0 1 212.17,634.05L246.93,621.08A312.8,312.8 0 0 0 247.86,623.55Z" fill="#c8c090"/>
<path d="M210.98,630.80A349.9,349.9 0 0 1 209.98,628.02L244.97,615.69A312.8,312.8 0 0 0 245.86,618.18Z" fill="#d6644a"/>
<path d="M209.67,627.14A349.9,349.9 0 0 1 208.07,622.45L243.27,610.71A312.8,312.8 0 0 0 244.70,614.91Z" fill="#a8a83a"/>
<path d="M207.62,621.07A349.9,349.9 0 0 1 205.72,615.13L241.16,604.17A312.8,312.8 0 0 0 242.86,609.48Z" fill="#a8a83a"/>
<path d="M205.13,613.21A349.9,349.9 0 0 1 201.16,599.03L237.09,589.77A312.8,312.8 0 0 0 240.64,602.45Z" fill="#e0a23a"/>
<path d="M200.72,597.32A349.9,349.9 0 0 1 197.55,583.57L233.86,575.95A312.8,312.8 0 0 0 236.70,588.25Z" fill="#a8a83a"/>
<path d="M197.05,581.16A349.9,349.9 0 0 1 196.48,578.26L232.90,571.21A312.8,312.8 0 0 0 233.42,573.80Z" fill="#c8c090"/>
<path d="M195.95,575.47A349.9,349.9 0 0 1 195.42,572.56L231.96,566.11A312.8,312.8 0 0 0 232.43,568.71Z" fill="#c8c090"/>
<path d="M195.35,572.16A349.9,349.9 0 0 1 194.86,569.25L231.45,563.15A312.8,312.8 0 0 0 231.90,565.76Z" fill="#ea7a40"/>
<path d="M194.16,564.93A349.9,349.9 0 0 1 193.73,562.01L230.44,556.68A312.8,312.8 0 0 0 230.83,559.29Z" fill="#c8c090"/>
<path d="M193.63,561.31A349.9,349.9 0 0 1 193.22,558.38L229.99,553.43A312.8,312.8 0 0 0 230.35,556.05Z" fill="#c8c090"/>
<path d="M192.52,552.83A349.9,349.9 0 0 1 192.18,549.89L229.06,545.85A312.8,312.8 0 0 0 229.36,548.47Z" fill="#a8a83a"/>
</g></svg>
<div class="crumb"><span class="g">/</span> src / storage / query</div>
<div class="bot"></div><div class="bot2"></div>
</body></html>
